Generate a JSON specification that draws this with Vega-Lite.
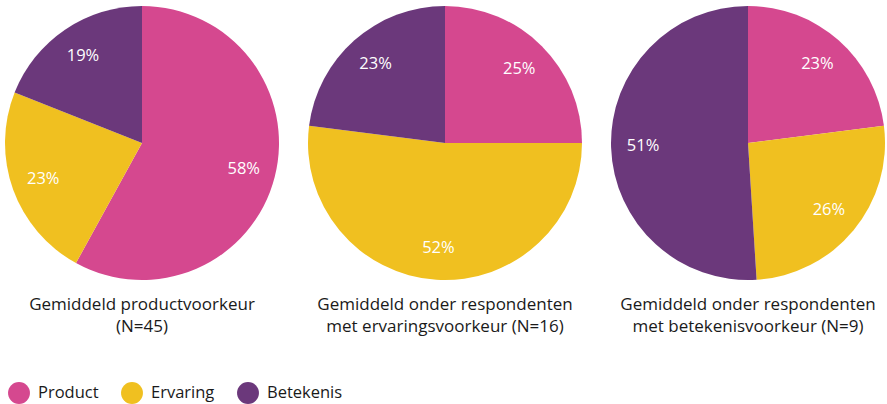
{
  "$schema": "https://vega.github.io/schema/vega-lite/v6.json",
  "padding": {"left": 5, "top": 6, "right": 0, "bottom": 0},
  "background": "white",
  "data": {"values": [
      {"chart": 1, "title": "Gemiddeld productvoorkeur|(N=45)", "category": "Product", "i": 1, "value": 0.58},
      {"chart": 1, "title": "Gemiddeld productvoorkeur|(N=45)", "category": "Ervaring", "i": 2, "value": 0.23},
      {"chart": 1, "title": "Gemiddeld productvoorkeur|(N=45)", "category": "Betekenis", "i": 3, "value": 0.19},
      {"chart": 2, "title": "Gemiddeld onder respondenten|met ervaringsvoorkeur (N=16)", "category": "Product", "i": 1, "value": 0.25},
      {"chart": 2, "title": "Gemiddeld onder respondenten|met ervaringsvoorkeur (N=16)", "category": "Ervaring", "i": 2, "value": 0.52},
      {"chart": 2, "title": "Gemiddeld onder respondenten|met ervaringsvoorkeur (N=16)", "category": "Betekenis", "i": 3, "value": 0.23},
      {"chart": 3, "title": "Gemiddeld onder respondenten|met betekenisvoorkeur (N=9)", "category": "Product", "i": 1, "value": 0.23},
      {"chart": 3, "title": "Gemiddeld onder respondenten|met betekenisvoorkeur (N=9)", "category": "Ervaring", "i": 2, "value": 0.26},
      {"chart": 3, "title": "Gemiddeld onder respondenten|met betekenisvoorkeur (N=9)", "category": "Betekenis", "i": 3, "value": 0.51}
  ]},
  "spacing": 29,
  "facet": {
    "column": {"field": "title", "type": "nominal", "sort": {"field": "chart"},
      "header": {"title": null, "labelOrient": "bottom", "labelExpr": "split(datum.value, '|')",
        "labelFontSize": 17, "labelColor": "#1a1a1a", "labelLineHeight": 22, "labelPadding": 17, "labelFont": "Open Sans"}}
  },
  "spec": {
    "width": 274, "height": 274,
    "encoding": {
      "theta": {"field": "value", "type": "quantitative", "stack": true},
      "order": {"field": "i", "type": "quantitative"},
      "color": {"field": "category", "type": "nominal", "sort": ["Product", "Ervaring", "Betekenis"],
        "scale": {"domain": ["Product", "Ervaring", "Betekenis"], "range": ["#D5488F", "#F0C020", "#6B387B"]},
        "legend": {"title": null, "orient": "none", "legendX": 3, "legendY": 376}}
    },
    "layer": [
      {"mark": {"type": "arc"}},
      {"mark": {"type": "text", "radius": 105, "fill": "white", "fontSize": 16.5},
       "encoding": {"text": {"field": "value", "type": "quantitative", "format": ".0%"}, "color": {"value": "white"}}}
    ]
  },
  "config": {
    "font": "Open Sans",
    "view": {"stroke": null},
    "legend": {"direction": "horizontal", "symbolType": "circle", "symbolSize": 480, "symbolStrokeWidth": 0, "symbolOpacity": 1,
      "labelFontSize": 16.5, "labelColor": "#1a1a1a", "columnPadding": 22, "labelOffset": 8},
    "text": {"font": "Open Sans"}
  }
}
